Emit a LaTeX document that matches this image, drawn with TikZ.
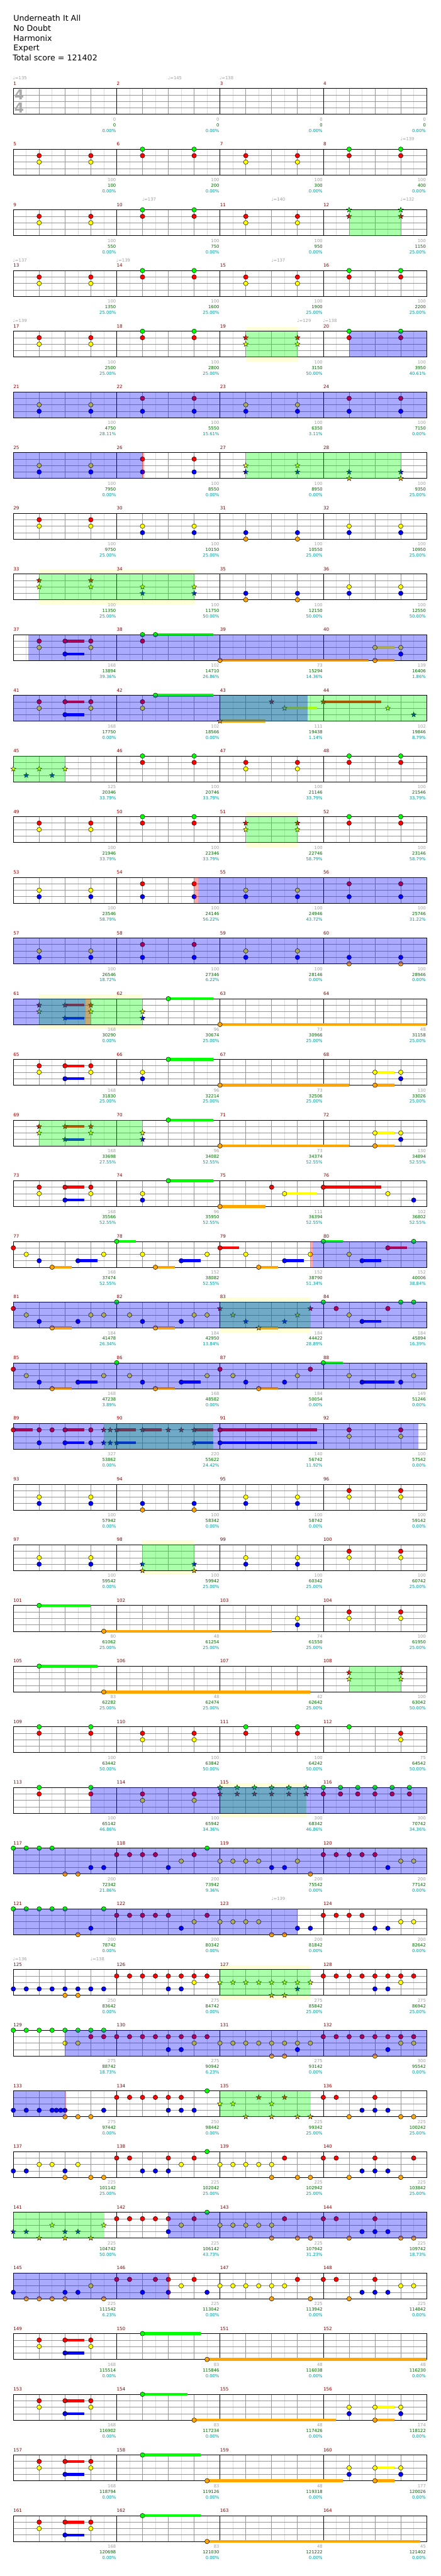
\documentclass[tikz,border=0pt]{standalone}
\usepackage{fontspec}
\setmainfont{DejaVu Sans}
\usepackage{tikz}
\usetikzlibrary{shapes.geometric}
\definecolor{gemgreen}{RGB}{0,255,0}
\definecolor{gemred}{RGB}{255,0,0}
\definecolor{gemyellow}{RGB}{255,255,0}
\definecolor{gemblue}{RGB}{0,0,255}
\definecolor{gemorange}{RGB}{255,165,0}
\colorlet{lane0}{gemgreen}
\colorlet{lane1}{gemred}
\colorlet{lane2}{gemyellow}
\colorlet{lane3}{gemblue}
\colorlet{lane4}{gemorange}
\definecolor{barnum}{RGB}{140,0,0}
\definecolor{txtgray}{RGB}{160,160,160}
\definecolor{txtgreen}{RGB}{0,100,0}
\definecolor{txtcyan}{RGB}{0,155,155}
\definecolor{gridlight}{RGB}{220,220,220}
\definecolor{gridbeat}{RGB}{150,150,150}
\definecolor{bandyellow}{RGB}{255,255,215}
\definecolor{sigray}{RGB}{170,170,170}

\pgfdeclarelayer{band}
\pgfdeclarelayer{sus}
\pgfdeclarelayer{gems}
\pgfdeclarelayer{tintg}
\pgfdeclarelayer{tintb}
\pgfsetlayers{band,main,sus,gems,tintg,tintb}

% chart data, one call per row (#1 = row, x in eighths, lane 0 = green ... 4 = orange)
\newcommand\gemrow[2]{\begin{pgfonlayer}{gems}\begin{scope}[rowat=#1]
  \foreach \nx/\nl in {#2} \filldraw[gem, fill=lane\nl] (\nx,\nl) circle[radius=5.3pt];
\end{scope}\end{pgfonlayer}}
\newcommand\starrow[2]{\begin{pgfonlayer}{gems}\begin{scope}[rowat=#1]
  \foreach \nx/\nl [count=\i] in {#2} \node[stargem, fill=lane\nl] (st#1-\i) at (\nx,\nl) {};
\end{scope}\end{pgfonlayer}}
\newcommand\susrow[2]{\begin{pgfonlayer}{sus}\begin{scope}[rowat=#1]
  \foreach \nx/\nl/\ne in {#2} \draw[sus, draw=lane\nl] (\nx,\nl) -- (\ne,\nl);
\end{scope}\end{pgfonlayer}}
\newcommand\sprow[2]{\begin{pgfonlayer}{tintg}\begin{scope}[rowat=#1]
  \foreach \ra/\rb in {#2} \fill[sptint] (\ra,0) rectangle (\rb,4);
\end{scope}\end{pgfonlayer}}
\newcommand\actrow[2]{\begin{pgfonlayer}{tintb}\begin{scope}[rowat=#1]
  \foreach \ra/\rb in {#2} \fill[acttint] (\ra,0) rectangle (\rb,4);
\end{scope}\end{pgfonlayer}}
\newcommand\redrow[2]{\begin{pgfonlayer}{tintb}\begin{scope}[rowat=#1]
  \foreach \ra/\rb in {#2} \fill[redtint] (\ra,0) rectangle (\rb,4);
\end{scope}\end{pgfonlayer}}
\newcommand\bandrow[2]{\begin{pgfonlayer}{band}\begin{scope}[rowat=#1]
  \foreach \ra/\rb in {#2} \fill[bandfill] (\ra,-0.69) rectangle (\rb,4.69);
\end{scope}\end{pgfonlayer}}
\newcommand\temporow[2]{\begin{scope}[rowat=#1]
  \foreach \nx/\bpm [count=\i] in {#2} \node[tempotxt] (tp#1-\i) at (\nx-0.03,-1.37) {♩=\bpm};
\end{scope}}
\newcommand\scorerow[2]{\begin{scope}[rowat=#1]
  \foreach \ptsv/\totv/\pctv [count=\k] in {#2} {
    \pgfmathtruncatemacro\mm{4*(#1-1)+\k}
    \node[scoretxt, text=txtgray]  (pts\mm) at (8*\k-0.05,5.03) {\ptsv};
    \node[scoretxt, text=txtgreen] (tot\mm) at (8*\k-0.05,5.9) {\totv};
    \node[scoretxt, text=txtcyan]  (pct\mm) at (8*\k-0.05,6.77) {\pctv\%};
  }
\end{scope}}

\begin{document}
\begin{tikzpicture}[
  x=30pt, y=-15pt,
  rowat/.style={shift={(1.0333,{13.7133+9.4*(#1-1)})}},
  eighthline/.style={draw=gridlight, line width=1pt},
  beatline/.style={draw=gridbeat, line width=1pt},
  barline/.style={draw=black, line width=1pt},
  gem/.style={draw=black, line width=0.7pt},
  stargem/.style={star, star points=5, star point ratio=2.4, minimum size=12.5pt,
                  inner sep=0pt, draw=black, line width=0.6pt},
  sus/.style={line width=6.5pt},
  sptint/.style={fill=gemgreen, fill opacity=0.3333},
  acttint/.style={fill=gemblue, fill opacity=0.3333},
  redtint/.style={fill=gemred, fill opacity=0.3333},
  bandfill/.style={fill=bandyellow},
  scoretxt/.style={anchor=base east, inner sep=0pt, font=\fontsize{10}{12}\selectfont},
  barnumtxt/.style={anchor=base west, inner sep=0pt, text=barnum, font=\fontsize{10.5}{12}\selectfont},
  tempotxt/.style={anchor=base west, inner sep=0pt, text=txtgray, font=\fontsize{10}{12}\selectfont},
  timesig/.style={inner sep=0pt, text=sigray, font=\fontsize{32}{32}\selectfont\bfseries},
  titletxt/.style={anchor=base west, inner sep=0pt, font=\fontsize{18.5}{22}\selectfont},
]
\begin{pgfonlayer}{band}
  \fill[white] (0,0) rectangle (34.1333,399.0667);
\end{pgfonlayer}
\useasboundingbox (0,0) rectangle (34.1333,399.0667);

% ===================== header =====================
\node[titletxt] (song)   at (1.0333,3.267) {Underneath It All};
\node[titletxt] (artist) at (1.0333,4.82)  {No Doubt};
\node[titletxt] (author) at (1.0333,6.38)  {Harmonix};
\node[titletxt] (level)  at (1.0333,7.89)  {Expert};
\node[titletxt] (total)  at (0.98,9.45)    {Total score = 121402};

% ===================== staves (4 bars a row) =====================
\foreach \r in {1,...,41} {
  \begin{scope}[rowat=\r]
    \fill[white] (0,0) rectangle (32,4);
    \foreach \e in {1,3,...,31} \draw[eighthline] (\e,0) -- (\e,4);
    \foreach \b in {2,4,...,30} \draw[beatline] (\b,0) -- (\b,4);
    \foreach \l in {1,2,3} \draw[beatline] (0,\l) -- (32,\l);
    \foreach \k in {1,2,3} \draw[barline] (8*\k,0) -- (8*\k,4);
    \draw[barline] (0,0) rectangle (32,4);
    \foreach \k in {0,...,3} {
      \pgfmathtruncatemacro\mm{4*(\r-1)+\k+1}
      \node[barnumtxt] (bar\mm) at (8*\k,-0.53) {\mm};
    }
  \end{scope}
}
\begin{scope}[rowat=1]
  \node[timesig] (tsup) at (0.45,0.95) {4};
  \node[timesig] (tslo) at (0.45,2.95) {4};
\end{scope}

% ===================== bars 1-24 =====================
\temporow{1}{0/135,12/145,16/138}
\scorerow{1}{0/0/0.00,0/0/0.00,0/0/0.00,0/0/0.00}

\gemrow{2}{2/1,2/2,6/1,6/2,10/0,10/1,14/0,14/1,18/1,18/2,22/1,22/2,26/0,26/1,30/0,30/1}
\temporow{2}{30/139}
\scorerow{2}{100/100/0.00,100/200/0.00,100/300/0.00,100/400/0.00}

\gemrow{3}{2/1,2/2,6/1,6/2,10/0,10/1,14/0,14/1,18/1,18/2,22/1,22/2}
\starrow{3}{26/0,26/1,30/0,30/1}
\sprow{3}{26/30}
\temporow{3}{10/137,20/140,30/132}
\scorerow{3}{100/550/0.00,100/750/0.00,100/950/0.00,100/1150/25.00}

\gemrow{4}{2/1,2/2,6/1,6/2,10/0,10/1,14/0,14/1,18/1,18/2,22/1,22/2,26/0,26/1,30/0,30/1}
\temporow{4}{0/137,8/139,20/137}
\scorerow{4}{100/1350/25.00,100/1600/25.00,100/1900/25.00,100/2200/25.00}

\gemrow{5}{2/1,2/2,6/1,6/2,10/0,10/1,14/0,14/1,26/0,26/1,30/0,30/1}
\starrow{5}{18/1,18/2,22/1,22/2}
\bandrow{5}{18/22}
\sprow{5}{18/22}
\actrow{5}{26/32}
\temporow{5}{0/139,22/129,24/138}
\scorerow{5}{100/2500/25.00,100/2800/25.00,100/3150/50.00,100/3950/40.61}

\gemrow{6}{2/2,2/3,6/2,6/3,10/1,10/3,14/1,14/3,18/2,18/3,22/2,22/3,26/1,26/3,30/1,30/3}
\actrow{6}{0/32}
\scorerow{6}{100/4750/28.11,100/5550/15.61,100/6350/3.11,100/7150/0.00}

% ===================== bars 25-48 =====================
\gemrow{7}{2/2,2/3,6/2,6/3,10/1,10/3,14/1,14/3}
\starrow{7}{18/2,18/3,22/2,22/3,26/3,26/4,30/3,30/4}
\actrow{7}{0/10}
\redrow{7}{10/10.1}
\sprow{7}{18/30}
\scorerow{7}{100/7950/0.00,100/8550/0.00,100/8950/0.00,100/9350/25.00}

\gemrow{8}{2/1,2/2,6/1,6/2,10/2,10/3,14/2,14/3,18/3,18/4,22/3,22/4,26/2,26/3,30/2,30/3}
\scorerow{8}{100/9750/25.00,100/10150/25.00,100/10550/25.00,100/10950/25.00}

\starrow{9}{2/1,2/2,6/1,6/2,10/2,10/3,14/2,14/3}
\gemrow{9}{18/3,18/4,22/3,22/4,26/2,26/3,30/2,30/3}
\bandrow{9}{2/14}
\sprow{9}{2/14}
\scorerow{9}{100/11350/25.00,100/11750/50.00,100/12150/50.00,100/12550/50.00}

\susrow{10}{4/1/5.5,4/3/5.5,11/0/15.5,16/4/27.5,28/2/29.5,28/4/29.5}
\gemrow{10}{2/1,2/2,4/1,4/3,6/1,6/2,10/0,10/1,11/0,16/4,28/2,28/4,30/2,30/3}
\actrow{10}{1.15/32}
\scorerow{10}{168/13894/39.36,102/14710/26.86,73/15294/14.36,139/16406/1.86}

\susrow{11}{4/1/5.5,4/3/5.5,11/0/15.5,16/4/19.5,21/2/23.5,24/1/28.5}
\gemrow{11}{2/1,2/2,4/1,4/3,6/1,6/2,10/1,10/2,11/0}
\starrow{11}{16/4,20/1,21/2,24/1,29/2,31/3}
\sprow{11}{16/32}
\actrow{11}{0/22.8}
\scorerow{11}{168/17750/0.00,102/18566/0.00,111/19438/1.14,102/19846/8.79}

\starrow{12}{0/2,1/3,2/2,3/3,4/2}
\gemrow{12}{10/0,10/1,14/0,14/1,18/1,18/2,22/1,22/2,26/0,26/1,30/0,30/1}
\sprow{12}{0/4}
\scorerow{12}{125/20346/33.79,100/20746/33.79,100/21146/33.79,100/21546/33.79}

% ===================== bars 49-72 =====================
\gemrow{13}{2/1,2/2,6/1,6/2,10/0,10/1,14/0,14/1,26/0,26/1,30/0,30/1}
\starrow{13}{18/1,18/2,22/1,22/2}
\bandrow{13}{18/22}
\sprow{13}{18/22}
\scorerow{13}{100/21946/33.79,100/22346/33.79,100/22746/58.79,100/23146/58.79}

\gemrow{14}{2/2,2/3,6/2,6/3,10/1,10/3,14/1,14/3,18/2,18/3,22/2,22/3,26/1,26/3,30/1,30/3}
\redrow{14}{14/14.32}
\actrow{14}{14.32/32}
\scorerow{14}{100/23546/58.79,100/24146/56.22,100/24946/43.72,100/25746/31.22}

\gemrow{15}{2/2,2/3,6/2,6/3,10/1,10/3,14/1,14/3,18/2,18/3,22/2,22/3,26/3,26/4,30/3,30/4}
\actrow{15}{0/32}
\scorerow{15}{100/26546/18.72,100/27346/6.22,100/28146/0.00,100/28946/0.00}

\susrow{16}{4/1/5.5,4/3/5.5,12/0/15.5,16/4/32}
\starrow{16}{2/1,2/2,4/1,4/3,6/1,6/2,10/2,10/3}
\gemrow{16}{12/0,16/4}
\bandrow{16}{2/10}
\sprow{16}{2/10}
\actrow{16}{0/5.6}
\redrow{16}{5.6/6}
\scorerow{16}{168/30290/0.00,96/30674/25.00,73/30966/25.00,48/31158/25.00}

\susrow{17}{4/1/5.5,4/3/5.5,12/0/15.5,16/4/26,28/2/29.5,28/4/29.5}
\gemrow{17}{2/1,2/2,4/1,4/3,6/1,6/2,10/2,10/3,12/0,16/4,28/2,28/4,30/2,30/3}
\scorerow{17}{168/31830/25.00,96/32214/25.00,73/32506/25.00,130/33026/25.00}

\susrow{18}{4/1/5.5,4/3/5.5,12/0/15.5,16/4/26,28/2/29.5,28/4/29.5}
\starrow{18}{2/1,2/2,4/1,4/3,6/1,6/2,10/2,10/3}
\gemrow{18}{12/0,16/4,28/2,28/4,30/2,30/3}
\sprow{18}{2/10}
\scorerow{18}{168/33698/27.55,96/34082/52.55,73/34374/52.55,130/34894/52.55}

% ===================== bars 73-96 =====================
\susrow{19}{4/1/5.5,4/3/5.5,12/0/15.5,16/4/19.5,21/2/23.5,24/1/28.5}
\gemrow{19}{2/1,2/2,4/1,4/3,6/1,6/2,10/2,10/3,12/0,16/4,20/1,21/2,24/1,29/2,31/3}
\scorerow{19}{168/35566/52.55,96/35950/52.55,111/36394/52.55,102/36802/52.55}

\susrow{20}{3/4/4.5,5/3/6.5,8/0/9.5,11/4/12.5,13/3/14.5,16/1/17.5,19/4/20.5,21/3/22.5,24/0/25.5,27/3/28.5,29/1/30.5}
\gemrow{20}{0/1,1/2,2/3,3/4,5/3,7/2,8/0,10/2,11/4,13/3,15/2,16/1,18/2,19/4,21/3,23/2,24/0,26/2,27/3,29/1,31/0}
\redrow{20}{23/23.2}
\actrow{20}{23.2/32}
\scorerow{20}{168/37474/52.55,152/38082/52.55,152/38790/51.34,152/40006/38.84}

\susrow{21}{3/4/4.5,11/4/12.5,19/4/20.5,27/3/28.5}
\gemrow{21}{0/1,1/2,2/3,3/4,5/3,6/2,7/2,8/0,9/2,10/3,11/4,13/3,14/2,15/2,24/0,25/1,26/2,27/3,29/1,30/0,31/0}
\starrow{21}{16/1,17/2,18/3,19/4,21/3,22/2,23/1}
\bandrow{21}{16/23}
\sprow{21}{16/23}
\actrow{21}{0/32}
\scorerow{21}{184/41478/26.34,184/42950/13.84,184/44422/28.89,184/45894/16.39}

\susrow{22}{3/4/4.5,5/3/6.5,11/4/12.5,13/3/14.5,19/4/20.5,24/0/25.5,27/3/29.5}
\gemrow{22}{0/1,1/2,2/3,3/4,5/3,7/2,8/0,9/2,10/3,11/4,13/3,15/2,16/1,17/2,18/3,19/4,21/3,22/2,23/1,24/0,26/2,27/3,30/3,31/2}
\actrow{22}{0/32}
\scorerow{22}{168/47238/3.89,168/48582/0.00,184/50054/0.00,149/51246/0.00}

\susrow{23}{0/1/1.5,4/1/5.5,4/3/5.5,8/1/9.5,10/1/11.5,14/1/15.5,8/3/9.5,14/3/15.5,16/1/23.5,16/3/23.5}
\gemrow{23}{0/1,2/1,3/1,4/1,6/1,2/3,4/3,6/3,16/1,16/3,26/1,26/2,30/1,30/2}
\starrow{23}{7/1,7.5/1,8/1,10/1,12/1,13/1,14/1,7/3,7.5/3,8/3,14/3}
\sprow{23}{7/15.5}
\actrow{23}{0/31.35}
\scorerow{23}{327/53862/0.00,220/55622/24.42,140/56742/11.92,100/57542/0.00}

\gemrow{24}{2/2,2/3,6/2,6/3,10/3,10/4,14/3,14/4,18/2,18/3,22/2,22/3,26/1,26/2,30/1,30/2}
\scorerow{24}{100/57942/0.00,100/58342/0.00,100/58742/0.00,100/59142/0.00}

% ===================== bars 97-120 =====================
\gemrow{25}{2/2,2/3,6/2,6/3,18/2,18/3,22/2,22/3,26/1,26/2,30/1,30/2}
\starrow{25}{10/3,10/4,14/3,14/4}
\bandrow{25}{10/14}
\sprow{25}{10/14}
\scorerow{25}{100/59542/0.00,100/59942/25.00,100/60342/25.00,100/60742/25.00}

\susrow{26}{2/0/6,7/4/20}
\gemrow{26}{2/0,7/4,22/2,22/3,26/1,26/2,30/1,30/2}
\scorerow{26}{80/61062/25.00,48/61254/25.00,74/61550/25.00,100/61950/25.00}

\susrow{27}{2/0/6.5,7/4/23}
\gemrow{27}{2/0,7/4}
\starrow{27}{26/1,26/2,30/1,30/2}
\sprow{27}{26/30}
\scorerow{27}{83/62282/25.00,48/62474/25.00,42/62642/25.00,100/63042/50.00}

\gemrow{28}{2/0,2/1,6/0,6/1,10/1,10/2,14/1,14/2,18/0,18/1,22/0,22/1,26/0,30/1,30/2}
\scorerow{28}{100/63442/50.00,100/63842/50.00,100/64242/50.00,75/64542/50.00}

\gemrow{29}{2/0,2/1,6/0,6/1,10/1,10/2,14/1,14/2,24/0,24/1,25.33/0,25.33/1,26.67/0,26.67/1,28/0,28/1,29.33/0,29.33/1,30.67/0,30.67/1}
\starrow{29}{16/0,16/1,17.33/0,17.33/1,18.67/0,18.67/1,20/0,20/1,21.33/0,21.33/1,22.67/0,22.67/1}
\bandrow{29}{16/22.67}
\sprow{29}{16/22.67}
\actrow{29}{6/32}
\scorerow{29}{100/65142/46.86,100/65942/34.36,300/68342/46.86,300/70742/34.36}

\gemrow{30}{0/0,1/0,2/0,3/0,4/4,5/4,6/3,7/3,8/1,9/1,10/1,11/1,12/3,13/2,14/1,15/0,16/2,17/2,18/2,19/2,20/3,21/3,22/2,23/4,24/1,25/1,26/1,27/1,28/1,29/3,30/2,31/2}
\actrow{30}{0/32}
\scorerow{30}{200/72342/21.86,200/73942/9.36,200/75542/0.00,200/77142/0.00}

% ===================== bars 121-144 =====================
\gemrow{31}{0/0,1/0,2/0,3/0,4/0,5/4,6/3,7/0,8/1,9/1,10/1,11/1,12/1,13/3,14/2,15/1,16/2,17/2,18/2,19/2,20/4,21/4,22/3,23/3,24/1,25/1,26/1,27/1,28/3,29/3,30/2,31/2}
\actrow{31}{0/22}
\temporow{31}{20/139}
\scorerow{31}{200/78742/0.00,200/80342/0.00,200/81842/0.00,200/82642/0.00}

\gemrow{32}{0/3,1/3,2/3,3/3,4/3,5/3,6/3,7/3,4/4,5/4,8/1,9/1,10/1,11/1,12/1,13/1,14/1,15/1,12/3,13/3,14/2,24/1,25/1,26/1,27/1,28/1,29/1,30/1,31/1,28/3,29/3,30/2}
\starrow{32}{16/2,17/2,18/2,19/2,20/2,21/2,22/2,23/2,20/4,21/4,22/3}
\bandrow{32}{16/23}
\sprow{32}{16/23}
\temporow{32}{0/136,6/138}
\scorerow{32}{250/83642/0.00,275/84742/0.00,275/85842/25.00,275/86942/25.00}

\gemrow{33}{0/0,1/0,2/0,3/0,4/0,5/0,6/0,7/0,4/2,5/2,6/1,7/1,8/1,9/1,10/1,11/1,12/1,13/1,14/1,15/1,12/3,13/3,14/2,16/2,17/2,18/2,19/2,20/2,21/2,22/2,23/2,20/4,21/4,22/3,24/1,25/1,26/1,27/1,28/1,29/1,30/1,31/1,28/4,29/3,30/2,31/2}
\actrow{33}{4/32}
\scorerow{33}{275/88742/18.73,275/90942/6.23,275/93142/0.00,300/95542/0.00}

\gemrow{34}{0/3,1/3,2/3,3/3,3.33/3,3.67/3,4/3,4/4,5/4,6/4,7/3,8/1,9/1,10/1,11/1,12/1,13/1,12/3,13/3,14/3,15/0,24/1,25/1,26/4,27/3,28/3,28/1,29/3,30/4,31/4}
\starrow{34}{16/2,17/2,18/4,19/1,20/2,20/4,21/1,22/4,23/4}
\sprow{34}{16/23}
\actrow{34}{0/4}
\redrow{34}{4/4.1}
\scorerow{34}{275/97442/0.00,250/98442/0.00,225/99342/25.00,225/100242/25.00}

\gemrow{35}{0/3,1/3,2/2,3/2,4/3,4/4,5/2,6/4,7/4,8/1,9/1,10/3,11/3,12/3,12/1,13/2,14/1,15/0,16/2,17/2,18/2,19/2,20/2,20/4,21/1,22/4,23/4,24/1,25/1,26/4,27/3,28/3,28/1,29/3,30/4,31/1}
\scorerow{35}{225/101142/25.00,225/102042/25.00,225/102942/25.00,225/103842/25.00}

\starrow{36}{0/3,1/3,2/4,3/2,4/3,4/4,5/3,6/4,7/2}
\gemrow{36}{8/1,9/1,10/1,11/1,12/1,12/3,13/2,14/1,15/0,16/2,17/2,18/2,19/2,20/2,20/4,21/1,22/4,23/4,24/1,25/1,26/4,27/3,28/3,28/1,29/3,30/4,31/4}
\sprow{36}{0/7}
\actrow{36}{12/32}
\scorerow{36}{225/104742/50.00,225/106142/43.73,225/107942/31.23,225/109742/18.73}

% ===================== bars 145-164 =====================
\gemrow{37}{0/3,1/4,2/4,3/4,4/4,4/3,5/3,6/2,7/4,8/1,9/1,10/3,11/1,12/1,12/3,13/2,14/1,15/3,16/2,17/2,18/2,19/2,20/2,20/4,21/2,22/1,23/4,24/1,25/1,26/4,27/3,28/3,28/1,29/3,30/2,31/2}
\actrow{37}{0/12}
\redrow{37}{12/12.1}
\scorerow{37}{225/111542/6.23,225/113042/0.00,225/113942/0.00,225/114842/0.00}

\susrow{38}{4/1/5.5,4/3/5.5,10/0/14.5,15/4/32}
\gemrow{38}{2/1,2/2,4/1,4/3,6/1,6/2,10/0,15/4}
\scorerow{38}{168/115514/0.00,83/115846/0.00,48/116038/0.00,48/116230/0.00}

\susrow{39}{4/1/5.5,4/3/5.5,10/0/13.5,14/4/25,28/2/29.5,28/4/29.5}
\gemrow{39}{2/1,2/2,4/1,4/3,6/1,6/2,10/0,14/4,26/2,26/3,28/2,28/4,30/2,30/3}
\scorerow{39}{168/116902/0.00,83/117234/0.00,48/117426/0.00,174/118122/0.00}

\susrow{40}{4/1/5.5,4/3/5.5,10/0/14.5,15/4/25.5,28/2/29.5,28/4/29.5}
\gemrow{40}{2/1,2/2,4/1,4/3,6/1,6/2,10/0,15/4,26/2,26/3,28/2,28/4,30/2,30/3}
\scorerow{40}{168/118794/0.00,83/119126/0.00,48/119318/0.00,177/120026/0.00}

\susrow{41}{4/1/5.5,4/3/5.5,10/0/14.5,15/4/31.5}
\gemrow{41}{2/1,2/2,4/1,4/3,6/1,6/2,10/0,15/4}
\scorerow{41}{168/120698/0.00,83/121030/0.00,48/121222/0.00,45/121402/0.00}

\end{tikzpicture}
\end{document}
